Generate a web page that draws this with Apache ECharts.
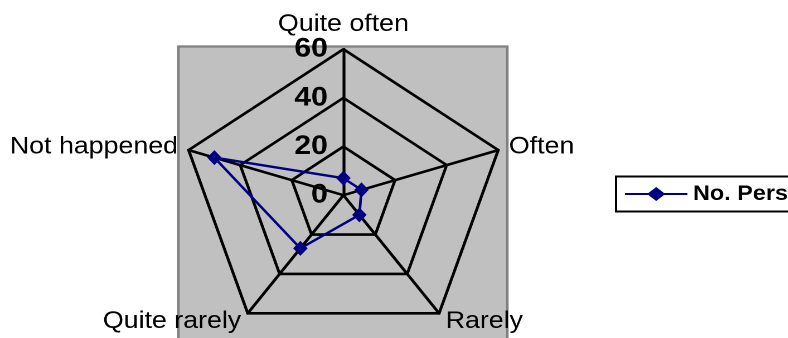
<!DOCTYPE html>
<html>
<head>
<meta charset="utf-8">
<script src="https://cdn.jsdelivr.net/npm/echarts@6/dist/echarts.min.js"></script>
<style>
html,body{margin:0;padding:0;background:#fff;overflow:hidden;width:788px;height:338px;}
#wrap{position:absolute;left:0;top:0;width:706.7px;height:338px;transform:scaleX(1.115);transform-origin:0 0;}
</style>
</head>
<body>
<div id="wrap"></div>
<script>
// Data (clockwise from top)
var categories = ['Quite often', 'Often', 'Rarely', 'Quite rarely', 'Not happened'];
var values = [7, 7, 10, 27, 50];
var seriesName = 'No. Persons';
var tickValues = [0, 20, 40, 60];
var axisMax = 60;

// ECharts radar places indicators counter-clockwise; reorder for clockwise look
var order = [0, 4, 3, 2, 1];
var indicators = order.map(function (i) { return { name: categories[i], max: axisMax, min: 0 }; });
var ordered = order.map(function (i) { return values[i]; });

var cx = 308, cy = 195.2, R = 146;
var FONT = '"Liberation Sans", Arial, sans-serif';

var chart = echarts.init(document.getElementById('wrap'), null, { renderer: 'canvas', devicePixelRatio: 2 });
chart.setOption({
  backgroundColor: '#ffffff',
  animation: false,
  textStyle: { fontFamily: FONT },
  graphic: [{
    type: 'rect', z: -10, silent: true,
    shape: { x: 160, y: 46.5, width: 295, height: 300 },
    style: { fill: '#C0C0C0', stroke: '#808080', lineWidth: 2.2 }
  }],
  legend: {
    left: 552.5, top: 176.5,
    orient: 'vertical',
    padding: [7, 40, 7, 8],
    borderColor: '#000', borderWidth: 2,
    itemWidth: 56, itemHeight: 14,
    data: [{
      name: seriesName,
      icon: 'path://M0,6L21,6L28,0L35,6L56,6L56,8L35,8L28,14L21,8L0,8Z'
    }],
    itemStyle: { color: '#000080' },
    textStyle: { fontSize: 21, fontWeight: 'bold', color: '#000', fontFamily: FONT }
  },
  grid: { left: cx, top: cy - R, height: R, width: 10, containLabel: false },
  xAxis: { type: 'value', show: false },
  yAxis: {
    type: 'value', min: tickValues[0], max: tickValues[tickValues.length - 1], interval: 20,
    axisLine: { show: false }, axisTick: { show: false }, splitLine: { show: false },
    axisLabel: { fontSize: 27, fontWeight: 'bold', color: '#000', margin: 14, fontFamily: FONT }
  },
  radar: {
    center: [cx, cy], radius: R, startAngle: 90,
    splitNumber: 3, shape: 'polygon',
    indicator: indicators,
    axisName: {
      color: '#000', fontSize: 24, fontFamily: FONT,
      formatter: function (n) { return n === 'Quite often' ? '{t|' + n + '}' : n; },
      rich: { t: { fontSize: 24, color: '#000', fontFamily: FONT, padding: [0, 0, 3, 0] } }
    },
    nameGap: 10,
    axisLine: { lineStyle: { color: '#000', width: 2.6 } },
    splitLine: { lineStyle: { color: '#000', width: 2.6 } },
    splitArea: { show: false },
    axisTick: { show: false },
    axisLabel: { show: false }
  },
  series: [{
    type: 'radar', name: seriesName,
    symbol: 'diamond', symbolSize: [13, 15],
    lineStyle: { color: '#000080', width: 2.4 },
    itemStyle: { color: '#000080' },
    data: [{ value: ordered, name: seriesName }]
  }]
});
</script>
</body>
</html>
